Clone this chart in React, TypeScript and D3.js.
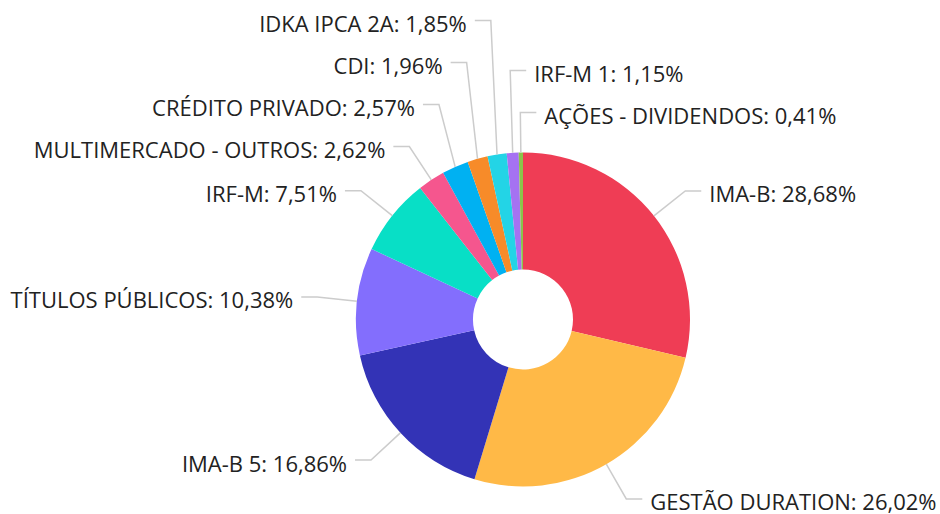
import React from 'react';
import * as d3 from 'd3';

const categories = [
  'IMA-B',
  'GESTÃO DURATION',
  'IMA-B 5',
  'TÍTULOS PÚBLICOS',
  'IRF-M',
  'MULTIMERCADO - OUTROS',
  'CRÉDITO PRIVADO',
  'CDI',
  'IDKA IPCA 2A',
  'IRF-M 1',
  'AÇÕES - DIVIDENDOS',
];
const values = [28.68, 26.02, 16.86, 10.38, 7.51, 2.62, 2.57, 1.96, 1.85, 1.15, 0.41];
const colors = [
  '#EF3D55',
  '#FFB947',
  '#3333B6',
  '#836EFD',
  '#08DFC6',
  '#F5568E',
  '#00B1F2',
  '#F78B29',
  '#23D4E6',
  '#A572F2',
  '#8BC44A',
];

const W = 940;
const H = 514;
const CX = 523;
const CY = 319.5;
const R = 167;
const R_IN = 50;
const LEN1 = 40;
const LEN2 = 16;
const GAP = 8;
const MIN_SPACING = 42;

const fmt = (v: number) => v.toFixed(2).replace('.', ',') + '%';

export default function App() {
  const items = categories.map((c, i) => ({ name: c, value: values[i], color: colors[i] }));
  const pie = d3
    .pie<any>()
    .sort(null)
    .value((d: any) => d.value)
    .startAngle(0)
    .endAngle(2 * Math.PI);
  const arcs = pie(items);
  const arc = d3.arc<any>().innerRadius(R_IN).outerRadius(R);

  const labels = arcs.map((a, i) => {
    const mid = (a.startAngle + a.endAngle) / 2;
    const s = Math.sin(mid);
    const c = Math.cos(mid);
    const side = s > -0.1 ? 'right' : 'left';
    const key = side === 'right' ? (mid > Math.PI ? mid - 2 * Math.PI : mid) : -mid;
    return {
      i,
      side,
      key,
      ex: CX + R * s,
      ey: CY - R * c,
      bx: CX + (R + LEN1) * s,
      by: CY - (R + LEN1) * c,
      text: `${a.data.name}: ${fmt(a.data.value)}`,
    };
  });

  (['left', 'right'] as const).forEach((side) => {
    const group = labels.filter((l) => l.side === side).sort((a, b) => a.key - b.key);
    let prev = Infinity;
    for (let k = group.length - 1; k >= 0; k--) {
      const l = group[k];
      l.by = Math.min(l.by, prev - MIN_SPACING);
      prev = l.by;
    }
  });

  return (
    <svg
      width={W}
      height={H}
      style={{ position: 'fixed', left: 0, top: 0, background: '#fff' }}
      fontFamily="'Open Sans', sans-serif"
    >
      <g>
        {arcs.map((a, i) => (
          <path key={i} d={arc(a) as string} transform={`translate(${CX},${CY})`} fill={a.data.color} />
        ))}
      </g>
      <g>
        {labels.map((l) => {
          const dir = l.side === 'right' ? 1 : -1;
          const lx = l.bx + dir * LEN2;
          return (
            <g key={l.i}>
              <polyline
                points={`${l.ex},${l.ey} ${l.bx},${l.by} ${lx},${l.by}`}
                fill="none"
                stroke="#cccccc"
                strokeWidth={1.5}
              />
              <text
                x={lx + dir * GAP}
                y={l.by + 11.5}
                textAnchor={l.side === 'right' ? 'start' : 'end'}
                fontSize={22}
                fill="#222"
              >
                {l.text}
              </text>
            </g>
          );
        })}
      </g>
    </svg>
  );
}
